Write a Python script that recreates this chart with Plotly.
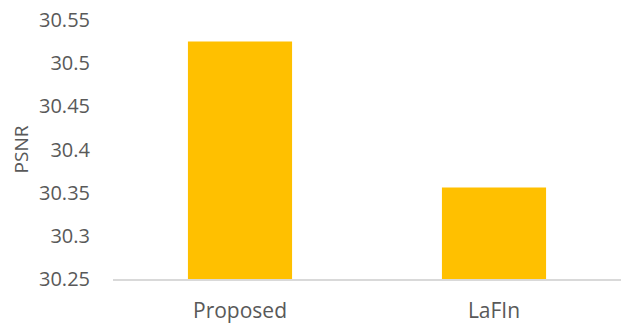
import plotly.graph_objects as go

categories = ["Proposed", "LaFIn"]
psnr_values = [30.525, 30.356]
tick_values = [30.25, 30.3, 30.35, 30.4, 30.45, 30.5, 30.55]
tick_labels = ["30.25", "30.3", "30.35", "30.4", "30.45", "30.5", "30.55"]

fig = go.Figure(go.Bar(x=categories, y=psnr_values, marker=dict(color="#FFC000", line=dict(width=0)),
                       showlegend=False))

font_family = "Open Sans"
fig.update_layout(
    width=621, height=324,
    margin=dict(l=113, r=0, t=20, b=45),
    paper_bgcolor="white", plot_bgcolor="white",
    bargap=0.59,
    font=dict(family=font_family, color="#595959", size=20),
)
fig.update_xaxes(showline=True, linecolor="#d9d9d9", linewidth=1.5, showgrid=False, automargin=False,
                 ticks="", tickfont=dict(size=21, color="#595959"), ticklabelstandoff=12)
fig.update_yaxes(range=[30.25, 30.55], tickvals=tick_values, ticktext=tick_labels, automargin=False,
                 showgrid=False, showline=False, zeroline=False, ticks="",
                 tickfont=dict(size=20, color="#595959"), ticklabelstandoff=22,
                 title=dict(text="PSNR", font=dict(size=19, color="#595959"), standoff=5))

fig.write_html("out.html", config={"displayModeBar": False},
               post_script="document.body.style.margin='0';document.body.style.padding='0';document.body.style.overflow='hidden';")
